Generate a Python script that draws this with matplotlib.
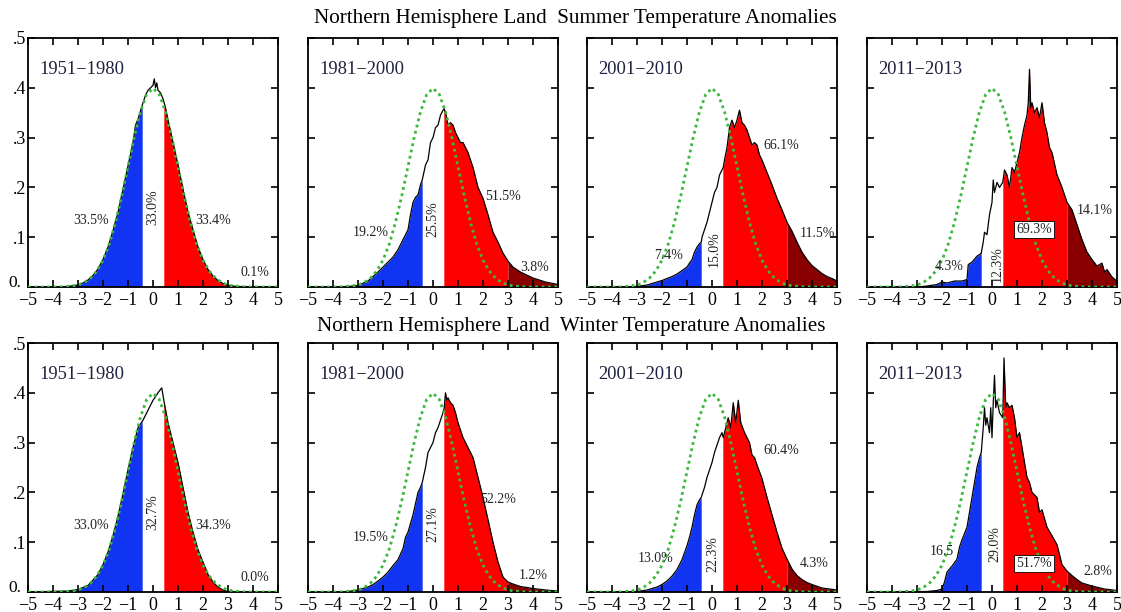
import numpy as np
import matplotlib
matplotlib.use("Agg")
import matplotlib.pyplot as plt

plt.rcParams['font.family'] = ['Liberation Serif', 'DejaVu Serif']
plt.rcParams['mathtext.fontset'] = 'stix'

# ---------------- data ----------------
periods = ["1951\u22121980", "1981\u22122000", "2001\u22122010", "2011\u22122013"]
row_titles = ["Northern Hemisphere Land  Summer Temperature Anomalies",
              "Northern Hemisphere Land  Winter Temperature Anomalies"]

# reference normal curve (green dotted), read at 0.25 steps from -5 to 5
normal_x = [-5.0, -4.75, -4.5, -4.25, -4.0, -3.75, -3.5, -3.25, -3.0, -2.75, -2.5, -2.25, -2.0, -1.75,
            -1.5, -1.25, -1.0, -0.75, -0.5, -0.25, 0.0, 0.25, 0.5, 0.75, 1.0, 1.25, 1.5, 1.75, 2.0,
            2.25, 2.5, 2.75, 3.0, 3.25, 3.5, 3.75, 4.0, 4.25, 4.5, 4.75, 5.0]
normal_y = [0.0, 0.0, 0.0, 0.0, 0.0, 0.0, 0.001, 0.002, 0.004, 0.009, 0.018, 0.032, 0.054, 0.086,
            0.130, 0.183, 0.242, 0.301, 0.352, 0.387, 0.399, 0.387, 0.352, 0.301, 0.242, 0.183, 0.130,
            0.086, 0.054, 0.032, 0.018, 0.009, 0.004, 0.002, 0.001, 0.0, 0.0, 0.0, 0.0, 0.0, 0.0]

# summer
s51_x = [-5.0, -3.4, -3.0, -2.8, -2.6, -2.4, -2.2, -2.0, -1.8, -1.6, -1.4, -1.2, -1.0, -0.8, -0.7, -0.6,
         -0.4, -0.3, -0.2, -0.1, 0.0, 0.05, 0.1, 0.15, 0.2, 0.3, 0.4, 0.5, 0.6, 0.8, 1.0, 1.2, 1.4, 1.6,
         1.8, 2.0, 2.2, 2.4, 2.6, 2.8, 3.0, 3.4, 5.0]
s51_y = [0.0, 0.001, 0.004, 0.008, 0.014, 0.023, 0.036, 0.055, 0.080, 0.113, 0.150, 0.196, 0.243, 0.290,
         0.325, 0.337, 0.370, 0.385, 0.395, 0.400, 0.405, 0.418, 0.400, 0.410, 0.395, 0.390, 0.378, 0.360,
         0.335, 0.290, 0.245, 0.196, 0.150, 0.115, 0.080, 0.055, 0.035, 0.022, 0.013, 0.007, 0.003,
         0.001, 0.0]

s81_x = [-5.0, -3.4, -3.0, -2.6, -2.2, -2.0, -1.8, -1.6, -1.4, -1.2, -1.0, -0.9, -0.8, -0.7, -0.6, -0.5,
         -0.43, -0.3, -0.2, -0.1, 0.0, 0.1, 0.2, 0.3, 0.4, 0.45, 0.55, 0.6, 0.7, 0.8, 0.9, 1.0, 1.1, 1.2,
         1.4, 1.6, 1.8, 2.0, 2.2, 2.4, 2.6, 2.8, 3.0, 3.2, 3.5, 4.0, 4.5, 5.0]
s81_y = [0.0, 0.001, 0.003, 0.012, 0.030, 0.040, 0.050, 0.060, 0.075, 0.095, 0.115, 0.145, 0.170, 0.180,
         0.185, 0.205, 0.215, 0.245, 0.255, 0.290, 0.300, 0.320, 0.325, 0.345, 0.355, 0.358, 0.340, 0.325,
         0.330, 0.325, 0.310, 0.300, 0.290, 0.290, 0.270, 0.240, 0.200, 0.178, 0.145, 0.110, 0.090,
         0.068, 0.052, 0.040, 0.030, 0.018, 0.010, 0.005]

s01_x = [-5.0, -3.0, -2.6, -2.2, -2.0, -1.8, -1.6, -1.4, -1.2, -1.0, -0.9, -0.8, -0.7, -0.6, -0.5, -0.43,
         -0.4, -0.3, -0.2, -0.1, 0.0, 0.1, 0.2, 0.3, 0.4, 0.45, 0.5, 0.6, 0.7, 0.8, 0.9, 1.0, 1.1, 1.2,
         1.3, 1.4, 1.5, 1.6, 1.7, 1.8, 1.9, 2.0, 2.2, 2.4, 2.6, 2.8, 3.0, 3.2, 3.4, 3.6, 3.8, 4.0, 4.2,
         4.4, 4.6, 4.8, 5.0]
s01_y = [0.0, 0.001, 0.004, 0.010, 0.013, 0.017, 0.021, 0.026, 0.033, 0.040, 0.048, 0.055, 0.070, 0.080,
         0.087, 0.090, 0.100, 0.115, 0.130, 0.150, 0.170, 0.190, 0.200, 0.225, 0.235, 0.240, 0.255, 0.280,
         0.320, 0.335, 0.320, 0.335, 0.355, 0.330, 0.325, 0.315, 0.300, 0.285, 0.290, 0.285, 0.265, 0.255,
         0.230, 0.205, 0.178, 0.155, 0.130, 0.112, 0.090, 0.070, 0.055, 0.043, 0.035, 0.027, 0.021,
         0.017, 0.012]

s11_x = [-5.0, -3.0, -2.6, -2.2, -2.0, -1.8, -1.5, -1.2, -1.0, -0.95, -0.8, -0.6, -0.5, -0.43, -0.35, -0.3,
         -0.2, -0.1, 0.0, 0.05, 0.1, 0.2, 0.3, 0.43, 0.5, 0.6, 0.7, 0.8, 0.9, 1.0, 1.1, 1.2, 1.3, 1.4,
         1.45, 1.5, 1.55, 1.6, 1.7, 1.8, 1.9, 2.0, 2.1, 2.2, 2.3, 2.4, 2.6, 2.8, 3.0, 3.2, 3.4, 3.6, 3.8,
         4.0, 4.2, 4.4, 4.5, 4.6, 4.8, 5.0]
s11_y = [0.0, 0.0, 0.002, 0.005, 0.010, 0.008, 0.012, 0.012, 0.015, 0.045, 0.050, 0.062, 0.065, 0.068,
         0.090, 0.110, 0.105, 0.145, 0.170, 0.215, 0.190, 0.210, 0.200, 0.210, 0.235, 0.225, 0.200, 0.240,
         0.230, 0.250, 0.270, 0.300, 0.325, 0.345, 0.370, 0.437, 0.360, 0.370, 0.350, 0.360, 0.340, 0.370,
         0.330, 0.310, 0.280, 0.270, 0.225, 0.200, 0.170, 0.155, 0.125, 0.095, 0.070, 0.055, 0.042, 0.048,
         0.030, 0.035, 0.020, 0.012]

# winter
w51_x = [-5.0, -3.4, -3.0, -2.6, -2.2, -2.0, -1.8, -1.6, -1.4, -1.2, -1.0, -0.8, -0.6, -0.4, -0.2, 0.0,
         0.1, 0.2, 0.35, 0.45, 0.6, 0.8, 1.0, 1.2, 1.4, 1.6, 1.8, 2.0, 2.2, 2.4, 2.6, 2.8, 3.0, 5.0]
w51_y = [0.0, 0.002, 0.005, 0.013, 0.035, 0.055, 0.080, 0.113, 0.152, 0.197, 0.245, 0.290, 0.330, 0.345,
         0.365, 0.385, 0.392, 0.400, 0.410, 0.380, 0.340, 0.300, 0.260, 0.210, 0.160, 0.120, 0.085, 0.060,
         0.035, 0.020, 0.010, 0.004, 0.001, 0.0]

w81_x = [-5.0, -3.4, -3.0, -2.6, -2.4, -2.2, -2.0, -1.8, -1.6, -1.4, -1.2, -1.1, -1.0, -0.8, -0.6, -0.5,
         -0.43, -0.3, -0.2, -0.1, 0.0, 0.1, 0.2, 0.3, 0.4, 0.45, 0.5, 0.55, 0.6, 0.7, 0.8, 0.9, 1.0, 1.2,
         1.4, 1.5, 1.6, 1.8, 2.0, 2.2, 2.4, 2.6, 2.8, 3.0, 3.2, 3.5, 4.0, 4.5, 5.0]
w81_y = [0.0, 0.001, 0.004, 0.010, 0.015, 0.022, 0.030, 0.040, 0.053, 0.065, 0.087, 0.110, 0.120, 0.155,
         0.200, 0.210, 0.220, 0.250, 0.280, 0.290, 0.300, 0.320, 0.330, 0.345, 0.360, 0.370, 0.400, 0.385,
         0.390, 0.380, 0.375, 0.360, 0.340, 0.310, 0.290, 0.280, 0.270, 0.230, 0.190, 0.145, 0.100, 0.060,
         0.030, 0.020, 0.016, 0.011, 0.007, 0.004, 0.002]

w01_x = [-5.0, -3.0, -2.6, -2.2, -2.0, -1.8, -1.6, -1.4, -1.2, -1.0, -0.9, -0.8, -0.7, -0.6, -0.5, -0.43,
         -0.3, -0.2, -0.1, 0.0, 0.1, 0.2, 0.3, 0.4, 0.45, 0.55, 0.65, 0.75, 0.85, 0.95, 1.05, 1.15, 1.3,
         1.5, 1.6, 1.7, 1.8, 2.0, 2.2, 2.4, 2.6, 2.8, 3.0, 3.2, 3.4, 3.6, 3.8, 4.0, 4.4, 5.0]
w01_y = [0.0, 0.001, 0.004, 0.010, 0.015, 0.022, 0.032, 0.045, 0.065, 0.093, 0.110, 0.130, 0.155, 0.175,
         0.185, 0.190, 0.210, 0.230, 0.245, 0.260, 0.280, 0.295, 0.310, 0.320, 0.310, 0.330, 0.350, 0.330,
         0.380, 0.340, 0.385, 0.340, 0.320, 0.300, 0.275, 0.270, 0.255, 0.228, 0.190, 0.155, 0.120, 0.088,
         0.066, 0.046, 0.033, 0.025, 0.019, 0.015, 0.008, 0.004]

w11_x = [-5.0, -2.6, -2.2, -2.0, -1.9, -1.8, -1.6, -1.4, -1.3, -1.2, -1.0, -0.9, -0.8, -0.7, -0.6, -0.5,
         -0.43, -0.35, -0.3, -0.25, -0.2, -0.1, -0.05, 0.0, 0.05, 0.1, 0.15, 0.2, 0.3, 0.43, 0.48, 0.55,
         0.6, 0.7, 0.8, 0.9, 1.0, 1.1, 1.2, 1.3, 1.4, 1.5, 1.6, 1.8, 1.9, 2.0, 2.2, 2.4, 2.6, 2.8, 3.0,
         3.2, 3.4, 3.6, 4.0, 4.5, 5.0]
w11_y = [0.0, 0.001, 0.003, 0.006, 0.020, 0.040, 0.052, 0.066, 0.090, 0.105, 0.130, 0.160, 0.190, 0.220,
         0.250, 0.270, 0.280, 0.330, 0.370, 0.335, 0.350, 0.320, 0.370, 0.310, 0.380, 0.435, 0.370, 0.385,
         0.360, 0.350, 0.470, 0.370, 0.380, 0.370, 0.375, 0.350, 0.310, 0.320, 0.290, 0.260, 0.230, 0.220,
         0.200, 0.190, 0.160, 0.165, 0.130, 0.113, 0.095, 0.055, 0.042, 0.033, 0.025, 0.018, 0.012, 0.006,
         0.003]

curves_x = [[s51_x, s81_x, s01_x, s11_x], [w51_x, w81_x, w01_x, w11_x]]
curves_y = [[s51_y, s81_y, s01_y, s11_y], [w51_y, w81_y, w01_y, w11_y]]

# percentage labels: (text, x, y, rotation, boxed)
labels_summer = [
    [("33.5%", -2.48, 0.133, 0, False), ("33.0%", 0.0, 0.16, 90, False),
     ("33.4%", 2.4, 0.133, 0, False), ("0.1%", 4.08, 0.03, 0, False)],
    [("19.2%", -2.49, 0.11, 0, False), ("25.5%", -0.02, 0.137, 90, False),
     ("51.5%", 2.79, 0.181, 0, False), ("3.8%", 4.07, 0.04, 0, False)],
    [("7.4%", -1.72, 0.064, 0, False), ("15.0%", 0.08, 0.077, 90, False),
     ("66.1%", 2.75, 0.284, 0, False), ("11.5%", 4.22, 0.107, 0, False)],
    [("4.3%", -1.72, 0.042, 0, False), ("12.3%", 0.19, 0.047, 90, False),
     ("69.3%", 1.68, 0.115, 0, True), ("14.1%", 4.09, 0.153, 0, False)],
]
labels_winter = [
    [("33.0%", -2.48, 0.133, 0, False), ("32.7%", 0.0, 0.16, 90, False),
     ("34.3%", 2.4, 0.133, 0, False), ("0.0%", 4.08, 0.03, 0, False)],
    [("19.5%", -2.49, 0.11, 0, False), ("27.1%", -0.02, 0.137, 90, False),
     ("52.2%", 2.6, 0.186, 0, False), ("1.2%", 4.0, 0.034, 0, False)],
    [("13.0%", -2.26, 0.067, 0, False), ("22.3%", 0.04, 0.077, 90, False),
     ("60.4%", 2.75, 0.284, 0, False), ("4.3%", 4.09, 0.057, 0, False)],
    [("16.5", -1.99, 0.082, 0, False), ("29.0%", 0.1, 0.097, 90, False),
     ("51.7%", 1.68, 0.058, 0, True), ("2.8%", 4.22, 0.042, 0, False)],
]
all_labels = [labels_summer, labels_winter]

x_ticks = [-5, -4, -3, -2, -1, 0, 1, 2, 3, 4, 5]
x_ticklabels = ["\u22125", "\u22124", "\u22123", "\u22122", "\u22121", "0", "1", "2", "3", "4", "5"]
y_ticks = [0.0, 0.1, 0.2, 0.3, 0.4, 0.5]
y_ticklabels = ["", ".1", ".2", ".3", ".4", ".5"]
y_zero_label = "0."

cold_edge, warm_edge, hot_edge = -0.43, 0.43, 3.0

# ---------------- styling ----------------
BLUE = "#1034f2"
RED = "#ff0000"
DARKRED = "#8a0000"
GREEN = "#3cb83c"

fig = plt.figure(figsize=(11.21, 6.12), dpi=100)
lefts = [28, 308, 587, 867]
tops = [38, 343]
W, H = 250, 249
FW, FH = 1121, 612

for r in range(2):
    for c in range(4):
        ax = fig.add_axes([lefts[c] / FW, 1 - (tops[r] + H) / FH, W / FW, H / FH])
        xs = np.asarray(curves_x[r][c], dtype=float)
        ys = np.asarray(curves_y[r][c], dtype=float)
        xf = np.linspace(-5, 5, 4001)
        yf = np.interp(xf, xs, ys)
        ax.fill_between(xf, 0, yf, where=xf <= cold_edge, color=BLUE, lw=0, zorder=1)
        ax.fill_between(xf, 0, yf, where=(xf >= warm_edge) & (xf <= hot_edge), color=RED, lw=0, zorder=1)
        ax.fill_between(xf, 0, yf, where=xf >= hot_edge, color=DARKRED, lw=0, zorder=1)
        ax.plot(xs, ys, color="black", lw=0.9, zorder=3)
        ax.plot(normal_x, normal_y, color=GREEN, lw=2.0, ls=(0, (1, 1.3)), zorder=4)

        ax.set_xlim(-5, 5)
        ax.set_ylim(0, 0.5)
        ax.set_xticks(x_ticks)
        ax.set_xticklabels(x_ticklabels, fontsize=13)
        ax.set_yticks(y_ticks)
        if c == 0:
            ax.set_yticklabels(y_ticklabels, fontsize=13)
            ax.text(-0.026, 0.018, y_zero_label, transform=ax.transAxes, fontsize=12.5,
                    ha="right", va="center", clip_on=False)
        else:
            ax.set_yticklabels([])
        ax.tick_params(direction="in", top=True, right=True, length=5, width=1.2)
        ax.tick_params(axis="x", pad=3.5)
        ax.tick_params(axis="y", pad=1.5)
        for sp in ax.spines.values():
            sp.set_linewidth(1.3)

        ax.text(-4.55, 0.436, periods[c], fontsize=13.3, ha="left", va="center", color="#202040")

        for (t, lx, ly, rot, boxed) in all_labels[r][c]:
            kw = dict(fontsize=10, ha="center", va="center", rotation=rot, color="#222222", zorder=6)
            if boxed:
                kw["bbox"] = dict(boxstyle="square,pad=0.15", fc="white", ec="black", lw=0.6)
            ax.text(lx, ly, t, **kw)

fig.text(575 / FW, 1 - 18 / FH, row_titles[0], fontsize=15.2, ha="center", va="center")
fig.text(571 / FW, 1 - 326 / FH, row_titles[1], fontsize=15.2, ha="center", va="center")

fig.savefig("out.png", dpi=100)
